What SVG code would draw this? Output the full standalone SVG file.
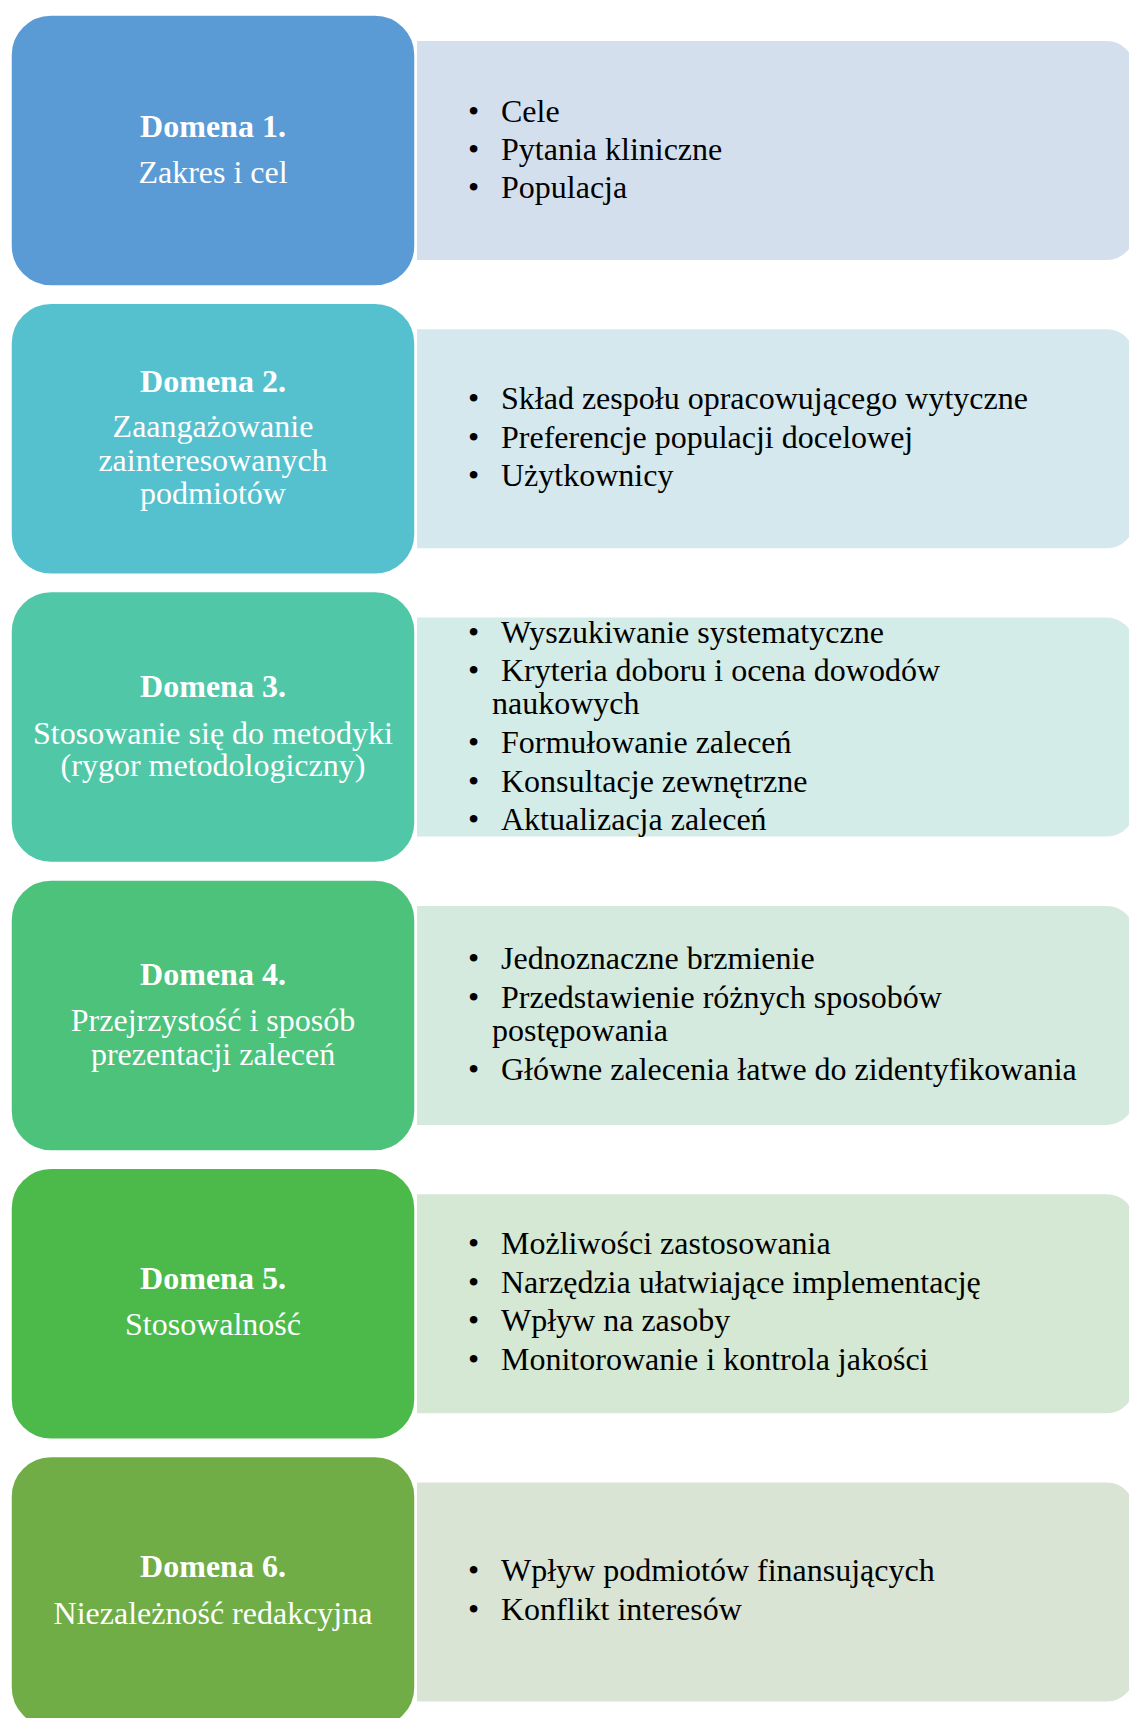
<svg xmlns="http://www.w3.org/2000/svg" width="1129" height="1718" viewBox="0 0 1129 1718">
<style>
.hd{font-family:"Liberation Serif","Times New Roman",serif;font-size:32px;fill:#ffffff;text-anchor:middle}
.b{font-weight:bold}
.it{font-family:"Liberation Serif","Times New Roman",serif;font-size:32px;fill:#000000}
.lb{stroke:#ffffff;stroke-width:1.5}
</style>
<rect width="1129" height="1718" fill="#ffffff"/>
<g id="connectors"></g>

<g id="domena1">
<path d="M417,41 H1107 A27,27 0 0 1 1134,68 V233 A27,27 0 0 1 1107,260 H417 Z" fill="#D4DFEE"/>
<rect class="lb" x="11" y="15" width="404" height="271" rx="40" fill="#5B9BD5"/>
<text class="hd b" x="213" y="137">Domena 1.</text>
<text class="hd" x="213" y="183">Zakres i cel</text>
<text class="it"><tspan x="468" y="122">•</tspan><tspan x="501" y="122">Cele</tspan></text>
<text class="it"><tspan x="468" y="160">•</tspan><tspan x="501" y="160">Pytania kliniczne</tspan></text>
<text class="it"><tspan x="468" y="198">•</tspan><tspan x="501" y="198">Populacja</tspan></text>
</g>

<g id="domena2">
<path d="M417,329.3 H1107 A27,27 0 0 1 1134,356.3 V521.3 A27,27 0 0 1 1107,548.3 H417 Z" fill="#D4E8EE"/>
<rect class="lb" x="11" y="303.3" width="404" height="271" rx="40" fill="#55C1CF"/>
<text class="hd b" x="213" y="392">Domena 2.</text>
<text class="hd" x="213" y="437">Zaangażowanie</text>
<text class="hd" x="213" y="470.5">zainteresowanych</text>
<text class="hd" x="213" y="504">podmiotów</text>
<text class="it"><tspan x="468" y="409">•</tspan><tspan x="501" y="409">Skład zespołu opracowującego wytyczne</tspan></text>
<text class="it"><tspan x="468" y="447.5">•</tspan><tspan x="501" y="447.5">Preferencje populacji docelowej</tspan></text>
<text class="it"><tspan x="468" y="486">•</tspan><tspan x="501" y="486">Użytkownicy</tspan></text>
</g>

<g id="domena3">
<path d="M417,617.6 H1107 A27,27 0 0 1 1134,644.6 V809.6 A27,27 0 0 1 1107,836.6 H417 Z" fill="#D3ECE7"/>
<rect class="lb" x="11" y="591.6" width="404" height="271" rx="40" fill="#50C8A8"/>
<text class="hd b" x="213" y="697">Domena 3.</text>
<text class="hd" x="213" y="743.5">Stosowanie się do metodyki</text>
<text class="hd" x="213" y="776">(rygor metodologiczny)</text>
<text class="it"><tspan x="468" y="642.5">•</tspan><tspan x="501" y="642.5">Wyszukiwanie systematyczne</tspan></text>
<text class="it"><tspan x="468" y="681">•</tspan><tspan x="501" y="681">Kryteria doboru i ocena dowodów</tspan></text>
<text class="it" x="492" y="714">naukowych</text>
<text class="it"><tspan x="468" y="753">•</tspan><tspan x="501" y="753">Formułowanie zaleceń</tspan></text>
<text class="it"><tspan x="468" y="791.5">•</tspan><tspan x="501" y="791.5">Konsultacje zewnętrzne</tspan></text>
<text class="it"><tspan x="468" y="830">•</tspan><tspan x="501" y="830">Aktualizacja zaleceń</tspan></text>
</g>

<g id="domena4">
<path d="M417,905.9 H1107 A27,27 0 0 1 1134,932.9 V1097.9 A27,27 0 0 1 1107,1124.9 H417 Z" fill="#D4EADE"/>
<rect class="lb" x="11" y="879.9" width="404" height="271" rx="40" fill="#4CC27A"/>
<text class="hd b" x="213" y="985">Domena 4.</text>
<text class="hd" x="213" y="1030.5">Przejrzystość i sposób</text>
<text class="hd" x="213" y="1064.5">prezentacji zaleceń</text>
<text class="it"><tspan x="468" y="969">•</tspan><tspan x="501" y="969">Jednoznaczne brzmienie</tspan></text>
<text class="it"><tspan x="468" y="1007.5">•</tspan><tspan x="501" y="1007.5">Przedstawienie różnych sposobów</tspan></text>
<text class="it" x="492" y="1040.5">postępowania</text>
<text class="it"><tspan x="468" y="1080">•</tspan><tspan x="501" y="1080">Główne zalecenia łatwe do zidentyfikowania</tspan></text>
</g>

<g id="domena5">
<path d="M417,1194.2 H1107 A27,27 0 0 1 1134,1221.2 V1386.2 A27,27 0 0 1 1107,1413.2 H417 Z" fill="#D4E8D4"/>
<rect class="lb" x="11" y="1168.2" width="404" height="271" rx="40" fill="#4BBA4B"/>
<text class="hd b" x="213" y="1289">Domena 5.</text>
<text class="hd" x="213" y="1335">Stosowalność</text>
<text class="it"><tspan x="468" y="1254">•</tspan><tspan x="501" y="1254">Możliwości zastosowania</tspan></text>
<text class="it"><tspan x="468" y="1292.5">•</tspan><tspan x="501" y="1292.5">Narzędzia ułatwiające implementację</tspan></text>
<text class="it"><tspan x="468" y="1331">•</tspan><tspan x="501" y="1331">Wpływ na zasoby</tspan></text>
<text class="it"><tspan x="468" y="1370">•</tspan><tspan x="501" y="1370">Monitorowanie i kontrola jakości</tspan></text>
</g>

<g id="domena6">
<path d="M417,1482.5 H1107 A27,27 0 0 1 1134,1509.5 V1674.5 A27,27 0 0 1 1107,1701.5 H417 Z" fill="#D9E4D4"/>
<rect class="lb" x="11" y="1456.5" width="404" height="271" rx="40" fill="#70AD47"/>
<text class="hd b" x="213" y="1577">Domena 6.</text>
<text class="hd" x="213" y="1624">Niezależność redakcyjna</text>
<text class="it"><tspan x="468" y="1581">•</tspan><tspan x="501" y="1581">Wpływ podmiotów finansujących</tspan></text>
<text class="it"><tspan x="468" y="1620">•</tspan><tspan x="501" y="1620">Konflikt interesów</tspan></text>
</g>
</svg>
